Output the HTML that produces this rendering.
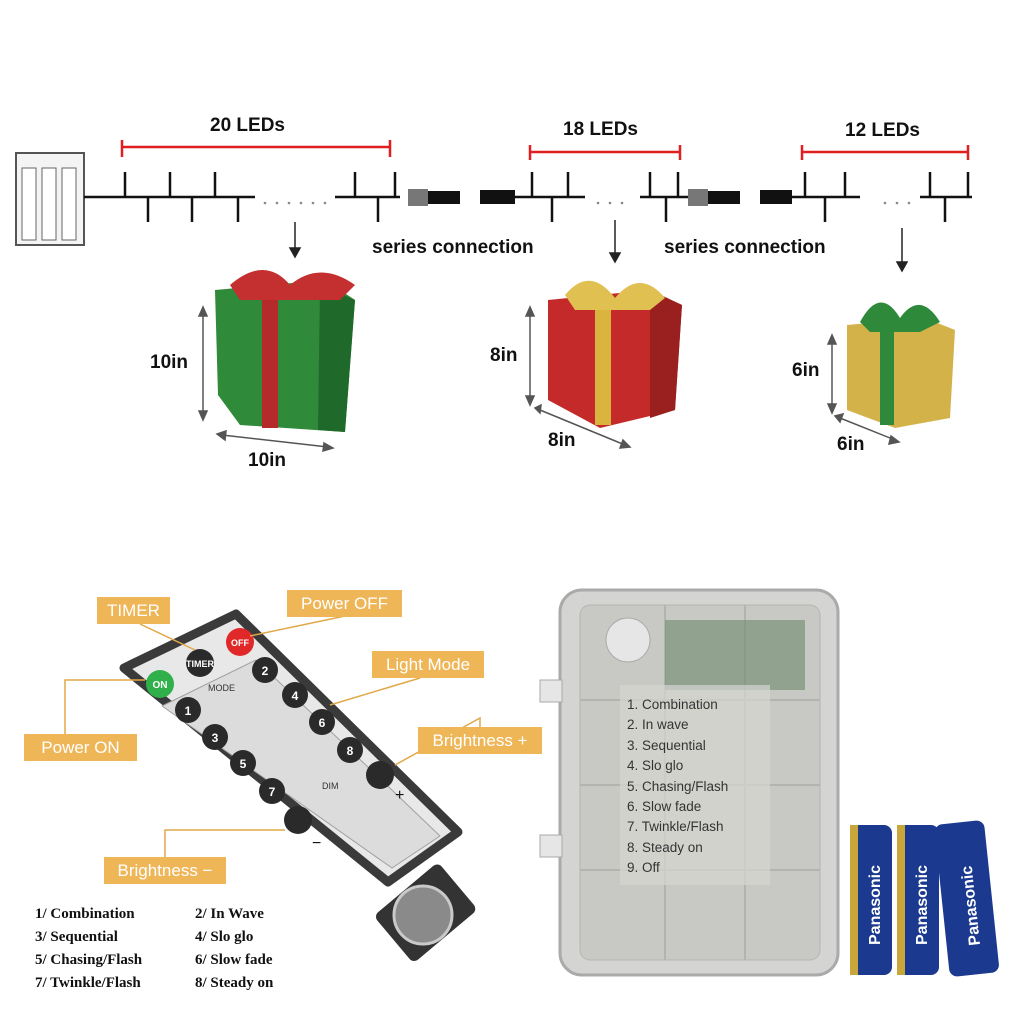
<!DOCTYPE html>
<html><head><meta charset="utf-8"><style>
body{margin:0;width:1024px;height:1024px;background:#fff;position:relative;overflow:hidden;font-family:"Liberation Sans",sans-serif}
.a{position:absolute}
.t{font-weight:bold;font-size:19px;color:#111}
.lab{position:absolute;background:#efb658;color:#fff;font-size:17px;text-align:center;line-height:27px;height:27px}
.leg{position:absolute;font-family:"Liberation Serif",serif;font-weight:bold;font-size:15px;color:#111}
</style></head><body>
<svg class="a" style="left:0;top:0" width="1024" height="1024">
 <rect x="16" y="153" width="68" height="92" fill="#f4f4f4" stroke="#555" stroke-width="2"/>
 <rect x="22" y="168" width="14" height="72" fill="#fff" stroke="#666"/>
 <rect x="42" y="168" width="14" height="72" fill="#fff" stroke="#666"/>
 <rect x="62" y="168" width="14" height="72" fill="#fff" stroke="#666"/>
 <g stroke="#111" stroke-width="2.5" fill="none">
  <line x1="84" y1="197" x2="255" y2="197"/>
  <line x1="335" y1="197" x2="400" y2="197"/>
  <line x1="515" y1="197" x2="585" y2="197"/>
  <line x1="640" y1="197" x2="688" y2="197"/>
  <line x1="790" y1="197" x2="860" y2="197"/>
  <line x1="920" y1="197" x2="972" y2="197"/>
  <path d="M125 172V197M170 172V197M215 172V197M355 172V197M395 172V197M532 172V197M568 172V197M650 172V197M678 172V197M805 172V197M845 172V197M930 172V197M968 172V197"/>
  <path d="M148 197V222M192 197V222M238 197V222M378 197V222M552 197V222M666 197V222M825 197V222M945 197V222"/>
 </g>
 <g fill="#888"><circle cx="265" cy="203" r="1.3"/><circle cx="277" cy="203" r="1.3"/><circle cx="289" cy="203" r="1.3"/><circle cx="301" cy="203" r="1.3"/><circle cx="313" cy="203" r="1.3"/><circle cx="325" cy="203" r="1.3"/><circle cx="598" cy="203" r="1.3"/><circle cx="610" cy="203" r="1.3"/><circle cx="622" cy="203" r="1.3"/><circle cx="885" cy="203" r="1.3"/><circle cx="897" cy="203" r="1.3"/><circle cx="909" cy="203" r="1.3"/></g>
 <rect x="408" y="189" width="20" height="17" fill="#777"/><rect x="428" y="191" width="32" height="13" fill="#111"/>
 <rect x="480" y="190" width="35" height="14" fill="#111"/>
 <rect x="688" y="189" width="20" height="17" fill="#777"/><rect x="708" y="191" width="32" height="13" fill="#111"/>
 <rect x="760" y="190" width="32" height="14" fill="#111"/>
 <g stroke="#e02020" stroke-width="2.5" fill="none">
  <path d="M122 140V157M122 147H390M390 140V157"/>
  <path d="M530 145V160M530 152H680M680 145V160"/>
  <path d="M802 145V160M802 152H968M968 145V160"/>
 </g>
 <g stroke="#222" stroke-width="1.5" fill="#222">
  <line x1="295" y1="222" x2="295" y2="250"/><path d="M290 248L295 257L300 248Z"/>
  <line x1="615" y1="220" x2="615" y2="255"/><path d="M610 253L615 262L620 253Z"/>
  <line x1="902" y1="228" x2="902" y2="264"/><path d="M897 262L902 271L907 262Z"/>
 </g>
 <polygon points="215,290 325,280 355,300 345,432 240,425 218,395" fill="#2f8a3a"/>
 <polygon points="320,285 355,300 345,432 318,430" fill="#1f6a2a"/>
 <rect x="262" y="290" width="16" height="138" fill="#b52b2b"/>
 <path d="M230 285 Q265 255 290 285 Q320 260 355 285 L340 300 L240 300Z" fill="#c43030"/>
 <polygon points="548,300 650,290 682,305 675,410 600,428 548,400" fill="#c42a2a"/>
 <polygon points="650,290 682,305 675,410 650,418" fill="#9a1f1f"/>
 <rect x="595" y="300" width="16" height="125" fill="#d9b540"/>
 <path d="M565 295 Q590 265 615 298 Q640 268 665 298 L650 310 L575 310Z" fill="#e0c050"/>
 <polygon points="847,325 925,318 955,330 950,418 895,428 847,410" fill="#d4b24a"/>
 <rect x="880" y="325" width="14" height="100" fill="#2e8a3a"/>
 <path d="M860 322 Q880 285 900 318 Q920 290 940 322 L920 332 L870 332Z" fill="#2e8a3a"/>
 <g stroke="#555" stroke-width="1.5" fill="#555">
  <line x1="203" y1="312" x2="203" y2="415"/><path d="M199 316L203 307L207 316ZM199 411L203 420L207 411Z"/>
  <line x1="222" y1="435" x2="328" y2="447"/><path d="M226 431L217 434L225 440ZM324 443L333 448L323 451Z"/>
  <line x1="530" y1="312" x2="530" y2="400"/><path d="M526 316L530 307L534 316ZM526 396L530 405L534 396Z"/>
  <line x1="540" y1="410" x2="625" y2="445"/><path d="M541 405L535 408L540 413ZM623 440L630 447L620 448Z"/>
  <line x1="832" y1="340" x2="832" y2="408"/><path d="M828 344L832 335L836 344ZM828 404L832 413L836 404Z"/>
  <line x1="840" y1="418" x2="895" y2="440"/><path d="M843 414L835 416L840 422ZM891 436L899 442L889 444Z"/>
 </g>
 <!-- remote -->
 <g transform="translate(425 912) rotate(-40)">
  <rect x="-42" y="-30" width="84" height="62" rx="6" fill="#333"/>
 </g>
 <polygon points="124,668 236,614 458,832 388,882" fill="#e8e8e8" stroke="#3a3a3a" stroke-width="9" stroke-linejoin="round"/>
 <polygon points="162,706 256,660 440,836 392,868" fill="#dcdcdc" stroke="#a0a0a0" stroke-linejoin="round"/>
 <circle cx="423" cy="915" r="29" fill="#8a8a8a" stroke="#c9c9c9" stroke-width="3"/>
 <g fill="#2a2a2a">
  <circle cx="200" cy="663" r="14"/><circle cx="265" cy="670" r="13"/><circle cx="295" cy="695" r="13"/>
  <circle cx="188" cy="710" r="13"/><circle cx="322" cy="722" r="13"/><circle cx="215" cy="737" r="13"/>
  <circle cx="350" cy="750" r="13"/><circle cx="243" cy="763" r="13"/><circle cx="272" cy="791" r="13"/>
  <circle cx="380" cy="775" r="14"/><circle cx="298" cy="820" r="14"/>
 </g>
 <circle cx="160" cy="684" r="14" fill="#2fb04a"/><circle cx="240" cy="642" r="14" fill="#e02828"/>
 <g font-family="Liberation Sans" font-weight="bold" font-size="12" fill="#fff" text-anchor="middle">
  <text x="160" y="688" font-size="10">ON</text><text x="240" y="646" font-size="9">OFF</text><text x="200" y="667" font-size="9">TIMER</text>
  <text x="265" y="675">2</text><text x="295" y="700">4</text><text x="188" y="715">1</text><text x="322" y="727">6</text><text x="215" y="742">3</text><text x="350" y="755">8</text><text x="243" y="768">5</text><text x="272" y="796">7</text>
 </g>
 <text x="208" y="691" font-size="9" fill="#333" font-family="Liberation Sans">MODE</text>
 <text x="322" y="789" font-size="9" fill="#333" font-family="Liberation Sans">DIM</text>
 <text x="395" y="800" font-size="16" fill="#111">+</text><text x="312" y="848" font-size="16" fill="#111">−</text>
 <g stroke="#e0a848" stroke-width="1.5" fill="none">
  <path d="M140 624 L195 650"/><path d="M345 616 L250 636"/><path d="M420 678 L330 705"/>
  <path d="M65 734 V680 H145"/><path d="M480 727 V718 L395 765"/><path d="M165 857 V830 H285"/>
 </g>
 <rect x="560" y="590" width="278" height="385" rx="22" fill="#d4d4d2" stroke="#aaa" stroke-width="3"/>
 <rect x="580" y="605" width="240" height="355" rx="10" fill="#c8c8c4" stroke="#b5b5b2"/>
 <g stroke="#b3b3af" stroke-width="2"><line x1="580" y1="700" x2="820" y2="700"/><line x1="580" y1="785" x2="820" y2="785"/><line x1="580" y1="870" x2="820" y2="870"/><line x1="665" y1="605" x2="665" y2="960"/><line x1="745" y1="605" x2="745" y2="960"/></g>
 <rect x="665" y="620" width="140" height="70" fill="#6c8a6c" opacity=".6"/>
 <circle cx="628" cy="640" r="22" fill="#e6e6e6" stroke="#aaa"/>
 <rect x="540" y="680" width="22" height="22" fill="#e6e6e6" stroke="#aaa"/>
 <rect x="540" y="835" width="22" height="22" fill="#e6e6e6" stroke="#aaa"/>
 <rect x="620" y="685" width="150" height="200" fill="#d6d6d2" opacity=".7"/>
 <g>
  <rect x="850" y="825" width="42" height="150" rx="8" fill="#1b3a8f"/><rect x="850" y="825" width="8" height="150" fill="#c9a63a"/>
  <rect x="897" y="825" width="42" height="150" rx="8" fill="#1b3a8f"/><rect x="897" y="825" width="8" height="150" fill="#c9a63a"/>
  <rect x="942" y="822" width="50" height="153" rx="8" fill="#1b3a8f" transform="rotate(-6 967 900)"/>
 </g>
 <g font-family="Liberation Sans" font-weight="bold" font-size="16" fill="#fff">
  <text transform="translate(880 945) rotate(-90)">Panasonic</text>
  <text transform="translate(927 945) rotate(-90)">Panasonic</text>
  <text transform="translate(980 945) rotate(-96)">Panasonic</text>
 </g>
</svg>
<div class="a t" style="left:210px;top:115px">20 LEDs</div>
<div class="a t" style="left:563px;top:119px">18 LEDs</div>
<div class="a t" style="left:845px;top:120px">12 LEDs</div>
<div class="a t" style="left:372px;top:237px">series connection</div>
<div class="a t" style="left:664px;top:237px">series connection</div>
<div class="a t" style="left:150px;top:352px">10in</div>
<div class="a t" style="left:248px;top:450px">10in</div>
<div class="a t" style="left:490px;top:345px">8in</div>
<div class="a t" style="left:548px;top:430px">8in</div>
<div class="a t" style="left:792px;top:360px">6in</div>
<div class="a t" style="left:837px;top:434px">6in</div>
<div class="lab" style="left:97px;top:597px;width:73px">TIMER</div>
<div class="lab" style="left:287px;top:590px;width:115px">Power OFF</div>
<div class="lab" style="left:372px;top:651px;width:112px">Light Mode</div>
<div class="lab" style="left:24px;top:734px;width:113px">Power ON</div>
<div class="lab" style="left:418px;top:727px;width:124px">Brightness +</div>
<div class="lab" style="left:104px;top:857px;width:122px">Brightness −</div>
<div class="leg" style="left:35px;top:906px">1/ Combination</div>
<div class="leg" style="left:195px;top:906px">2/ In Wave</div>
<div class="leg" style="left:35px;top:929px">3/ Sequential</div>
<div class="leg" style="left:195px;top:929px">4/ Slo glo</div>
<div class="leg" style="left:35px;top:952px">5/ Chasing/Flash</div>
<div class="leg" style="left:195px;top:952px">6/ Slow fade</div>
<div class="leg" style="left:35px;top:975px">7/ Twinkle/Flash</div>
<div class="leg" style="left:195px;top:975px">8/ Steady on</div>
<div class="a" style="left:627px;top:695px;font-size:13.5px;line-height:20.4px;color:#333">1. Combination<br>2. In wave<br>3. Sequential<br>4. Slo glo<br>5. Chasing/Flash<br>6. Slow fade<br>7. Twinkle/Flash<br>8. Steady on<br>9. Off</div>
</body></html>
